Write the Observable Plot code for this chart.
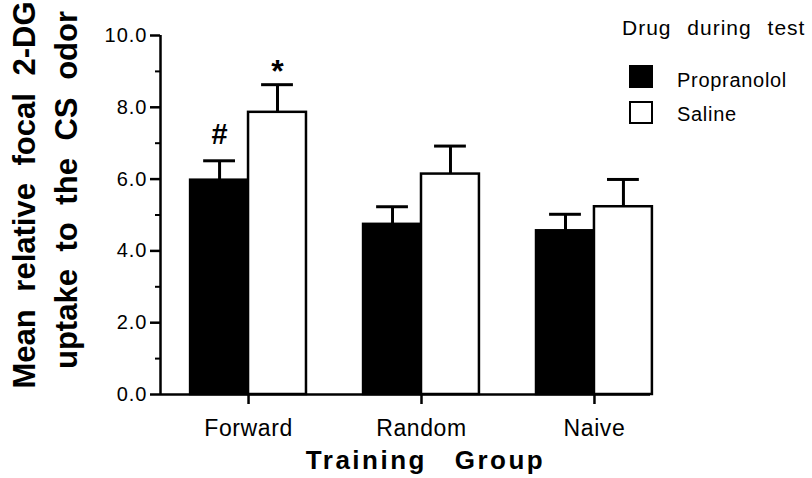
<!DOCTYPE html>
<html><head><meta charset="utf-8">
<script src="https://cdn.jsdelivr.net/npm/d3@7"></script>
<script src="https://cdn.jsdelivr.net/npm/@observablehq/plot@0.6"></script>
<style>
html,body{margin:0;padding:0;background:#fff;}
#chart{position:relative;width:812px;height:478px;font-family:'Liberation Sans',Arial,Helvetica,sans-serif;color:#000;}
#chart svg{position:absolute;left:0;top:0;}
.lg{position:absolute;white-space:nowrap;}
.lg-title{left:622px;top:17px;font-size:21px;line-height:21px;letter-spacing:1px;word-spacing:9px;}
.lg-box{position:absolute;left:629px;width:20px;height:19px;border:2px solid #000;}
.lg-text{left:677px;font-size:20px;line-height:20px;letter-spacing:0.7px;}
</style></head><body><div id="chart"></div>
<script>
// ---- data ----
const groups = ["Forward", "Random", "Naive"];
const drugs = ["Propranolol", "Saline"];
const propranololMean = [5.97, 4.74, 4.56];
const propranololSem  = [0.54, 0.49, 0.46];
const salineMean = [7.86, 6.14, 5.23];
const salineSem  = [0.77, 0.78, 0.76];
const sigGroup  = ["Forward", "Forward"];
const sigDrug   = ["Propranolol", "Saline"];
const sigSymbol = ["#", "*"];
const yMajorTicks = [0, 2, 4, 6, 8, 10];
const yMinorTicks = [1, 3, 5, 7, 9];
const yTitleLines = ["Mean relative focal 2-DG", "uptake to the CS odor"];
const xTitle = "Training Group";
const legendTitle = "Drug during test";

// ---- table built from the arrays ----
const rows = groups.flatMap((g, i) => drugs.map((d, j) => ({
  group: g, drug: d, gi: i, dj: j,
  mean: j ? salineMean[i] : propranololMean[i],
  sem: j ? salineSem[i] : propranololSem[i]
})));
const sigs = sigSymbol.map((s, k) => ({...rows.find(r => r.group === sigGroup[k] && r.drug === sigDrug[k]), symbol: s}));

const W = 0.335;     // bar width, in group units
const CAP = 0.092;   // half width of error-bar cap, in group units
const xDomain = [-0.509, 2.324];
const center = d => d.gi + (d.dj - 0.5) * W;
const fam = "'Liberation Sans', Arial, Helvetica, sans-serif";

const plot = Plot.plot({
  width: 812, height: 478,
  marginLeft: 160, marginRight: 162, marginTop: 35, marginBottom: 84,
  style: {fontFamily: fam, color: "black", background: "transparent", overflow: "visible"},
  x: {type: "linear", domain: xDomain, axis: null},
  y: {domain: [0, 10], axis: null},
  color: {domain: drugs, range: ["black", "white"]},
  marks: [
    Plot.rectY(rows, {x1: d => d.gi + (d.dj - 1) * W, x2: d => d.gi + d.dj * W, y: "mean",
      fill: "drug", stroke: "black", strokeWidth: 2.5}),
    Plot.ruleX(rows, {x: center, y1: "mean", y2: d => d.mean + d.sem, stroke: "black", strokeWidth: 3}),
    Plot.ruleY(rows, {y: d => d.mean + d.sem, x1: d => center(d) - CAP, x2: d => center(d) + CAP,
      stroke: "black", strokeWidth: 3}),
    Plot.text(sigs.filter(d => d.symbol === "#"), {x: center, y: d => d.mean + d.sem, text: "symbol",
      dy: -26, fontSize: 29, fontWeight: "bold", fill: "black"}),
    Plot.text(sigs.filter(d => d.symbol === "*"), {x: center, y: d => d.mean + d.sem, text: "symbol",
      dy: -13, fontSize: 32, fontWeight: "bold", fill: "black"}),
    // axes
    Plot.ruleY([0], {stroke: "black", strokeWidth: 2.5}),
    Plot.ruleX([xDomain[0]], {y1: 0, y2: 10, stroke: "black", strokeWidth: 2.5}),
    Plot.axisY(yMajorTicks, {tickSize: 10, tickPadding: 3, strokeWidth: 2.5, fontSize: 20,
      tickFormat: d => d.toFixed(1), label: null}),
    Plot.axisY(yMinorTicks, {tickSize: 5, strokeWidth: 2, tickFormat: () => "", label: null}),
    Plot.axisX(groups.map((g, i) => i), {tickSize: 10, tickPadding: 15, strokeWidth: 2.5, fontSize: 23,
      tickFormat: i => groups[i], label: null}),
    // titles
    Plot.text([yTitleLines[0]], {frameAnchor: "left", textAnchor: "middle", dx: -135, dy: -20, rotate: -90,
      fontSize: 31, fontWeight: "bold", fill: "black"}),
    Plot.text([yTitleLines[1]], {frameAnchor: "left", textAnchor: "middle", dx: -93, dy: -25, rotate: -90,
      fontSize: 31, fontWeight: "bold", fill: "black"}),
    Plot.text([xTitle], {frameAnchor: "bottom", textAnchor: "middle", dx: 20, dy: 74, fontSize: 26,
      fontWeight: "bold", fill: "black"})
  ]
});
const chart = document.getElementById("chart");
chart.appendChild(plot);

// text spacing tweaks (style only)
const svgSel = d3.select(plot);
const byText = (s) => svgSel.selectAll("text").filter(function() { return this.textContent === s; });
yTitleLines.forEach(s => byText(s).style("word-spacing", "9px"));
byText(xTitle).style("letter-spacing", "2.5px").style("word-spacing", "18px");
yMajorTicks.forEach(v => byText(v.toFixed(1)).style("letter-spacing", "1px"));
groups.forEach(g => byText(g).style("letter-spacing", "0.6px"));

// legend
const lt = document.createElement("div");
lt.className = "lg lg-title"; lt.textContent = legendTitle; chart.appendChild(lt);
drugs.forEach((d, j) => {
  const b = document.createElement("div");
  b.className = "lg-box";
  b.style.top = (j ? 101 : 65) + "px";
  b.style.background = plot.scale("color").apply(d);
  chart.appendChild(b);
  const t = document.createElement("div");
  t.className = "lg lg-text";
  t.style.top = (j ? 104 : 70) + "px";
  t.textContent = d;
  chart.appendChild(t);
});
</script></body></html>
